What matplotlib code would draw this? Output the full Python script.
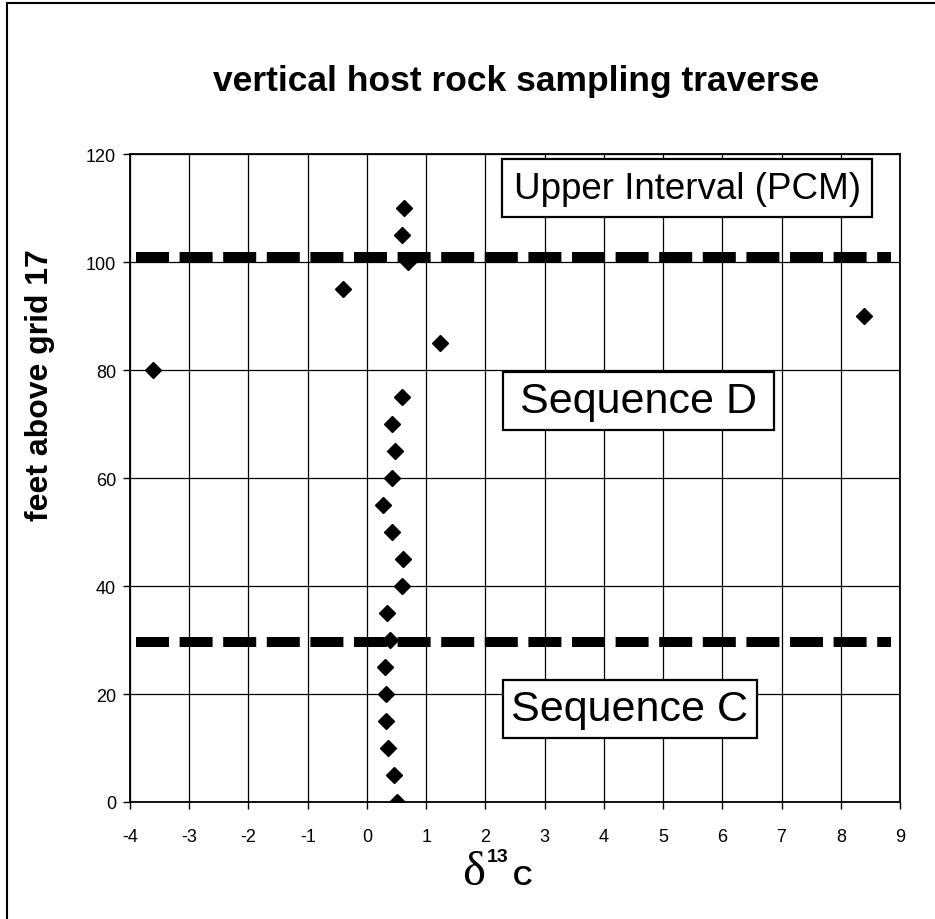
import matplotlib
matplotlib.use("Agg")
import matplotlib.pyplot as plt
from matplotlib.patches import Rectangle

plt.rcParams['font.family'] = ['Liberation Sans', 'DejaVu Sans']
plt.rcParams['axes.unicode_minus'] = False

# sample heights (feet above grid 17) and carbon isotope values
height_ft = [0, 5, 10, 15, 20, 25, 30, 35, 40, 45, 50, 55,
             60, 65, 70, 75, 80, 85, 90, 95, 100, 105, 110]
d13c = [0.50, 0.46, 0.35, 0.33, 0.32, 0.30, 0.39, 0.34, 0.60, 0.61, 0.43, 0.27,
        0.42, 0.48, 0.43, 0.60, -3.61, 1.24, 8.40, -0.40, 0.70, 0.59, 0.63]

# sequence boundaries (dashed lines)
boundary_x = [-3.9, 8.85]
boundary_y = [101, 29.7]

# interval labels: text, box (x0, x1, y0, y1), font size
labels = ["Upper Interval (PCM)", "Sequence D", "Sequence C"]
label_boxes = [(2.28, 8.53, 108.3, 119.1),
               (2.29, 6.88, 68.9, 79.7),
               (2.30, 6.58, 11.8, 22.6)]
label_sizes = [26.5, 31, 31]

xticks = list(range(-4, 10))
yticks = list(range(0, 121, 20))

W, H = 935, 920
fig = plt.figure(figsize=(W / 100, H / 100), dpi=100)
ax = fig.add_axes([130 / W, 1 - 803 / H, 770 / W, 648 / H])

ax.set_xlim(-4, 9)
ax.set_ylim(0, 120)
ax.set_xticks(xticks)
ax.set_yticks(yticks)
ax.grid(True, color='black', lw=0.9, zorder=1)
ax.set_axisbelow(True)
for s in ax.spines.values():
    s.set_linewidth(1.3)
ax.tick_params(direction='out', length=5, width=1, labelsize=13, color='black')
ax.tick_params(axis='x', pad=14)
ax.tick_params(axis='y', pad=5)

for yb in boundary_y:
    ax.plot(boundary_x, [yb, yb], color='black', lw=7.2,
            linestyle=(0, (3.3, 1.06)), dash_capstyle='butt', zorder=3)

for txt, (x0, x1, y0, y1), fs in zip(labels, label_boxes, label_sizes):
    ax.add_patch(Rectangle((x0, y0), x1 - x0, y1 - y0, facecolor='white',
                           edgecolor='black', lw=1.6, zorder=4))
    ax.text((x0 + x1) / 2, (y0 + y1) / 2, txt, ha='center', va='center',
            fontsize=fs, zorder=5)

ax.plot(d13c, height_ft, linestyle='none', marker='D', ms=8.5,
        color='black', zorder=6)

# y label sits above the axis centre
fig.text(40 / W, 1 - 385 / H, "feet above grid 17", rotation=90,
         fontsize=23, fontweight='bold', ha='center', va='center')

# x label: delta 13 C
fig.text(462 / W, 1 - 885 / H, "\u03b4", fontsize=35, family='Liberation Serif',
         ha='left', va='baseline')
fig.text(487 / W, 1 - 862 / H, "13", fontsize=14, fontweight='bold',
         ha='left', va='baseline')
fig.text(513 / W, 1 - 885 / H, "C", fontsize=19.5, fontweight='bold',
         ha='left', va='baseline')

fig.text(516 / W, 1 - 82 / H, "vertical host rock sampling traverse",
         fontsize=25.5, fontweight='bold', ha='center', va='center')

# chart frame
fig.patches.append(Rectangle((7 / W, -0.05), 1.0, 1.05 - 4 / H, fill=False,
                             lw=1.5, edgecolor='black', transform=fig.transFigure))

fig.savefig("out.png", dpi=100)
